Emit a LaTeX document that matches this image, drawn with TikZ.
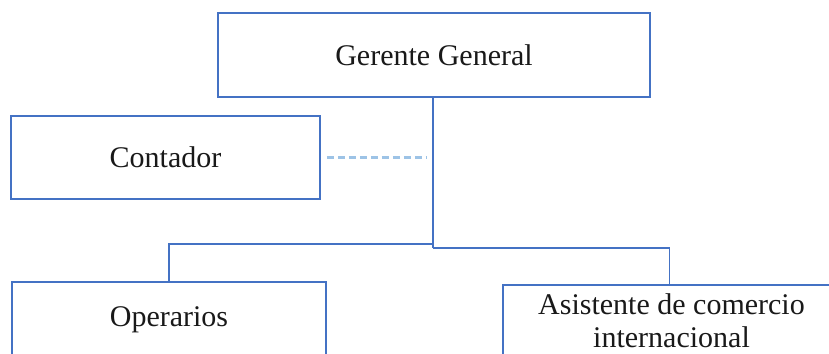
\documentclass[tikz,border=0pt]{standalone}
\usepackage{fontspec}
\setmainfont{Liberation Serif}
\usepackage{xcolor}
\usetikzlibrary{positioning,calc}
\definecolor{boxblue}{HTML}{4472C4}
\definecolor{dashblue}{HTML}{9DC3E6}

\tikzset{
  puesto/.style={draw=boxblue, line width=0.9pt, fill=white, align=center,
    font=\fontsize{15}{16.5}\selectfont, text=black!90, inner sep=0pt},
  enlace/.style={draw=boxblue, line width=0.8pt},
  asesor/.style={draw=dashblue, line width=1.2pt, dash pattern=on 3.5pt off 2pt}
}

\begin{document}
\begin{tikzpicture}[x=0.5pt, y=-0.5pt]
  \useasboundingbox (0,0) rectangle (829,353);
  \clip (0,0) rectangle (829,353);

  \node[puesto, minimum width=216pt, minimum height=42pt] (gerente) at (434,55) {Gerente General};
  \node[puesto, minimum width=154.5pt, minimum height=41.5pt] (contador) at (165.5,157.5) {Contador};
  \node[puesto, minimum width=157pt, minimum height=38pt] (operarios) at (169,320) {Operarios};
  \node[puesto, minimum width=168.5pt, minimum height=36pt] (asistente) at (671.5,321) {Asistente de comercio\\internacional};

  \coordinate (ramaizq) at (433,244);
  \coordinate (ramader) at (433,248);

  % lineas de mando
  \draw[enlace] (gerente.south -| ramaizq) -- (ramader);
  \draw[enlace] (ramaizq) -| (operarios.north);
  \draw[enlace] (ramader) -| ([xshift=-1pt]asistente.north);
  % asesoria
  \draw[asesor] ([xshift=3pt]contador.east) -- ([xshift=-3pt]ramaizq |- contador.east);
\end{tikzpicture}
\end{document}
